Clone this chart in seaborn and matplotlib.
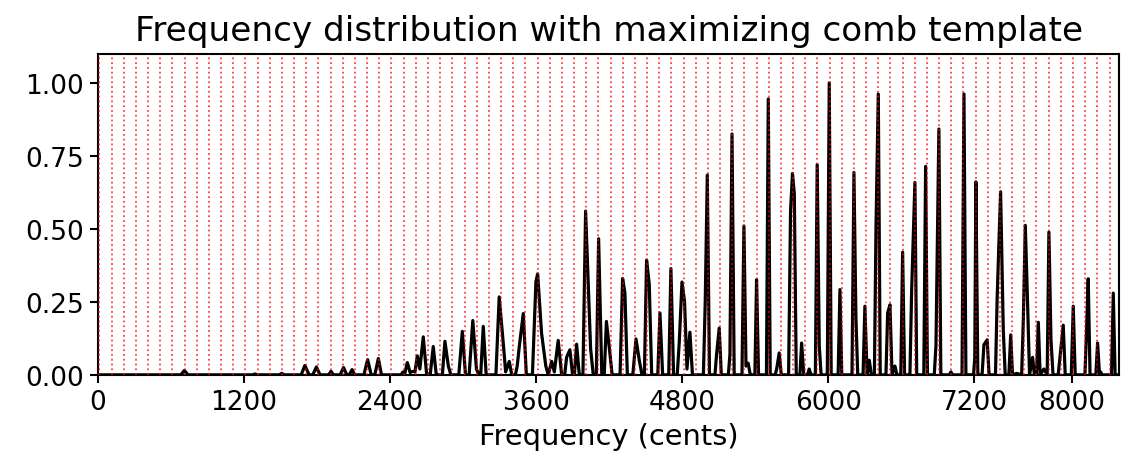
import numpy as np
import pandas as pd
import matplotlib
matplotlib.use("Agg")
import matplotlib.pyplot as plt
import seaborn as sns

# vertices of the frequency distribution (cents, amplitude)
cents = [
    0, 680, 710, 740, 1270, 1290, 1310, 1490, 1510, 1530, 1670, 1700, 1735, 1765, 1795, 1825,
    1895, 1915, 1935, 1990, 2018, 2045, 2065, 2088, 2110,
    2185, 2216, 2245, 2275, 2304, 2330,
    2490, 2506, 2520, 2542, 2565, 2586, 2605, 2624, 2645, 2673, 2700, 2730, 2755, 2780,
    2830, 2851, 2879, 2900, 2965, 2994, 3020, 3050, 3080, 3110, 3130, 3145, 3166, 3190,
    3270, 3297, 3330, 3350, 3380, 3400, 3430, 3445, 3462, 3495, 3520, 3570, 3599, 3613, 3645,
    3680, 3700, 3728, 3750, 3782, 3810, 3835, 3851, 3878, 3900, 3915, 3933, 3955,
    3985, 4007, 4048, 4070, 4095, 4114, 4140, 4160, 4178, 4202, 4225,
    4290, 4311, 4330, 4350, 4395, 4412, 4421, 4448, 4470, 4490, 4508, 4530, 4550, 4600, 4618,
    4640, 4690, 4708, 4730, 4760, 4777, 4799, 4820, 4840, 4864, 4885,
    4975, 4990, 5007, 5025, 5070, 5083, 5105, 5122, 5180, 5193, 5210, 5228,
    5292, 5308, 5325, 5343, 5360, 5398, 5412, 5428, 5493, 5508, 5524, 5565, 5577, 5598, 5615,
    5675, 5691, 5707, 5722, 5738, 5768, 5782, 5800, 5830, 5844, 5860, 5895, 5910, 5927, 5942,
    5993, 6009, 6025, 6082, 6097, 6112, 6196, 6212, 6228, 6243, 6287, 6302, 6320, 6338, 6355,
    6380, 6393, 6412, 6428, 6475, 6489, 6508, 6525, 6549, 6565, 6597, 6612, 6628, 6672, 6686,
    6713, 6728, 6786, 6801, 6816, 6872, 6886, 6910, 6926, 6995, 7009, 7022,
    7100, 7116, 7132, 7195, 7205, 7214, 7230, 7265, 7280, 7307, 7322, 7375, 7389, 7417, 7439,
    7455, 7485, 7500, 7515, 7549, 7590, 7604, 7620, 7637, 7655, 7680, 7695, 7712, 7727, 7742,
    7773, 7800, 7814, 7831, 7848, 7890, 7905, 7932, 7948, 7998, 8014, 8030, 8110, 8124, 8137,
    8152, 8200, 8214, 8230, 8239, 8250, 8328, 8343, 8358, 8392,
]
amplitude = [
    0, 0, 0.015, 0, 0, 0.003, 0, 0, 0.005, 0, 0, 0.032, 0, 0, 0.027, 0,
    0, 0.012, 0, 0, 0.025, 0, 0, 0.018, 0,
    0, 0.052, 0, 0, 0.056, 0,
    0, 0.01, 0.003, 0.042, 0.008, 0.012, 0.01, 0.065, 0.02, 0.13, 0.005, 0, 0.097, 0,
    0, 0.115, 0.03, 0, 0, 0.149, 0, 0, 0.186, 0.02, 0, 0, 0.166, 0,
    0, 0.267, 0.11, 0.01, 0.046, 0, 0, 0.03, 0.097, 0.21, 0, 0, 0.32, 0.346, 0.143,
    0.03, 0, 0.046, 0.01, 0.118, 0, 0, 0.06, 0.086, 0, 0, 0.105, 0,
    0, 0.561, 0.09, 0, 0, 0.466, 0, 0, 0.183, 0.092, 0,
    0, 0.33, 0.28, 0, 0, 0.08, 0.123, 0.05, 0, 0, 0.393, 0.31, 0, 0, 0.212,
    0, 0, 0.364, 0, 0, 0.115, 0.318, 0.252, 0.02, 0.146, 0,
    0, 0.25, 0.684, 0, 0, 0.07, 0.16, 0, 0, 0.07, 0.825, 0,
    0, 0.51, 0.03, 0.04, 0, 0, 0.326, 0, 0, 0.945, 0, 0, 0.02, 0.075, 0,
    0, 0.56, 0.69, 0.62, 0, 0, 0.109, 0, 0, 0.02, 0, 0, 0.72, 0.1, 0,
    0, 1.0, 0, 0, 0.292, 0, 0, 0.693, 0.2, 0, 0, 0.235, 0, 0.05, 0,
    0, 0.5, 0.962, 0, 0, 0.212, 0.24, 0, 0.03, 0, 0, 0.42, 0, 0, 0.286,
    0.659, 0, 0, 0.714, 0, 0, 0.1, 0.842, 0, 0, 0.01, 0,
    0, 0.962, 0, 0, 0.06, 0.661, 0, 0, 0.103, 0.12, 0, 0, 0.267, 0.627, 0.155,
    0, 0, 0.137, 0, 0.005, 0, 0.19, 0.512, 0.27, 0, 0.06, 0, 0, 0.18, 0,
    0.02, 0, 0.489, 0.12, 0, 0, 0.06, 0.17, 0, 0, 0.235, 0, 0, 0.16, 0.329,
    0, 0, 0.109, 0, 0.01, 0, 0, 0.28, 0, 0,
]

# comb template: one tooth every 100 cents, shifted by the maximizing offset
comb_offset = 12
comb_step = 100
xticks = [0, 1200, 2400, 3600, 4800, 6000, 7200, 8000]

df = pd.DataFrame({"cents": cents, "amp": amplitude})

sns.set_style("ticks")
plt.rcParams["font.family"] = ["DejaVu Sans"]
plt.rcParams["text.color"] = "black"
plt.rcParams["xtick.color"] = "black"
plt.rcParams["ytick.color"] = "black"
plt.rcParams["axes.labelcolor"] = "black"

fig, ax = plt.subplots(figsize=(11.26, 4.64), dpi=100)
fig.subplots_adjust(left=0.087, right=0.994, bottom=0.19, top=0.882)

sns.lineplot(data=df, x="cents", y="amp", color="black", linewidth=2.3,
             sort=False, estimator=None, ax=ax, zorder=2)

for c in np.arange(comb_offset, 8400, comb_step):
    ax.axvline(c, color="red", linestyle=":", linewidth=1.3, alpha=0.75, zorder=3)

ax.set_xlim(0, 8392)
ax.set_ylim(0, 1.1)
ax.set_xticks(xticks)
ax.set_yticks([0, 0.25, 0.5, 0.75, 1.0])
ax.set_yticklabels(["0.00", "0.25", "0.50", "0.75", "1.00"])
ax.tick_params(labelsize=19, length=6, width=1.5, pad=4, direction="out", colors="black")
for s in ax.spines.values():
    s.set_visible(True)
    s.set_linewidth(1.5)
    s.set_color("black")

ax.set_title("Frequency distribution with maximizing comb template", fontsize=24.7, color="black", pad=10)
ax.set_xlabel("Frequency (cents)", fontsize=20.8, color="black", labelpad=5)
ax.set_ylabel("")

plt.savefig("out.png", dpi=100)
